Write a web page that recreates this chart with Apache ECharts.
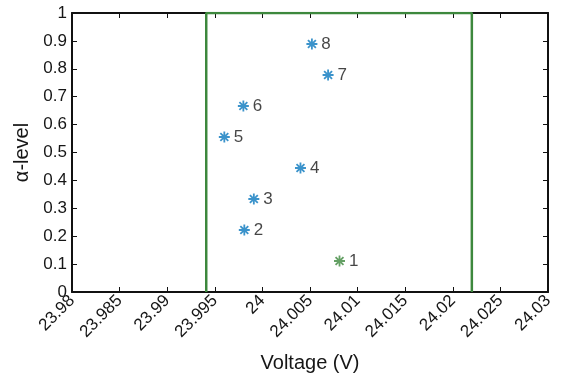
<!DOCTYPE html>
<html><head><meta charset="utf-8">
<script src="https://cdn.jsdelivr.net/npm/echarts@6/dist/echarts.min.js"></script>
<style>html,body{margin:0;padding:0;background:#fff}#c{width:564px;height:378px}</style>
</head><body><div id="c"></div>
<script>
const xTicks = [23.98, 23.985, 23.99, 23.995, 24, 24.005, 24.01, 24.015, 24.02, 24.025, 24.03];
const yTicks = [0, 0.1, 0.2, 0.3, 0.4, 0.5, 0.6, 0.7, 0.8, 0.9, 1];
const pointLabels = ['1','2','3','4','5','6','7','8'];
const pointVoltage = [24.0081, 23.9981, 23.9991, 24.0040, 23.9960, 23.9980, 24.0069, 24.0052];
const pointAlpha = [1/9, 2/9, 3/9, 4/9, 5/9, 6/9, 7/9, 8/9];
const intervalX = [23.9941, 23.9941, 24.0220, 24.0220];
const intervalY = [0, 1, 1, 0];

const FONT = '"Liberation Sans", Arial, sans-serif';
const TXT = '#161616';
const BLUE = '#0a78be', GREEN = '#3d883d';
const star = 'path://M0,-5L0,5M-5,0L5,0M-3.6,-3.6L3.6,3.6M-3.6,3.6L3.6,-3.6';

const blueData = [], greenData = [];
pointLabels.forEach((l, i) => {
  const d = {value: [pointVoltage[i], pointAlpha[i]], name: l};
  (i === 0 ? greenData : blueData).push(d);
});

const fmtX = v => String(Math.round(v * 1000) / 1000);
const chart = echarts.init(document.getElementById('c'));
const axisLine = {show: true, onZero: false, lineStyle: {color: '#111', width: 2}};
const tick = {inside: true, length: 5, lineStyle: {color: '#111', width: 1}};
const labelStyle = {show: true, position: 'right', distance: 3, formatter: p => p.name,
  fontFamily: FONT, fontSize: 17, color: TXT};
chart.setOption({
  animation: false,
  grid: {left: 72, right: 16, top: 13, bottom: 86, containLabel: false, outerBoundsMode: 'none'},
  xAxis: [{
    type: 'value', min: xTicks[0], max: xTicks[xTicks.length - 1], interval: 0.005,
    axisLine, axisTick: tick, splitLine: {show: false},
    axisLabel: {rotate: 45, fontFamily: FONT, fontSize: 17, color: TXT, margin: 6,
      formatter: v => fmtX(v)},
    name: 'Voltage (V)', nameLocation: 'middle', nameGap: 61,
    nameTextStyle: {fontFamily: FONT, fontSize: 20, color: TXT}
  }, {
    type: 'value', position: 'top', min: xTicks[0], max: xTicks[xTicks.length - 1], interval: 0.005,
    axisLine, axisTick: tick, axisLabel: {show: false}, splitLine: {show: false}
  }],
  yAxis: [{
    type: 'value', min: yTicks[0], max: yTicks[yTicks.length - 1], interval: 0.1,
    axisLine, axisTick: tick, splitLine: {show: false},
    axisLabel: {fontFamily: FONT, fontSize: 17, color: TXT, margin: 5,
      formatter: v => String(Math.round(v * 10) / 10)},
    name: 'α-level', nameLocation: 'middle', nameGap: 40,
    nameTextStyle: {fontFamily: FONT, fontSize: 20, color: TXT}
  }, {
    type: 'value', position: 'right', min: yTicks[0], max: yTicks[yTicks.length - 1], interval: 0.1,
    axisLine, axisTick: tick, axisLabel: {show: false}, splitLine: {show: false}
  }],
  series: [{
    type: 'line', data: intervalX.map((x, i) => [x, intervalY[i]]),
    showSymbol: false, lineStyle: {color: GREEN, width: 2.5}, z: 3
  }, {
    type: 'scatter', data: blueData, symbol: star, symbolSize: 11,
    itemStyle: {color: 'rgba(0,0,0,0)', borderColor: BLUE, borderWidth: 1.8},
    label: labelStyle, z: 4
  }, {
    type: 'scatter', data: greenData, symbol: star, symbolSize: 11,
    itemStyle: {color: 'rgba(0,0,0,0)', borderColor: GREEN, borderWidth: 1.8},
    label: labelStyle, z: 4
  }]
});
</script></body></html>
